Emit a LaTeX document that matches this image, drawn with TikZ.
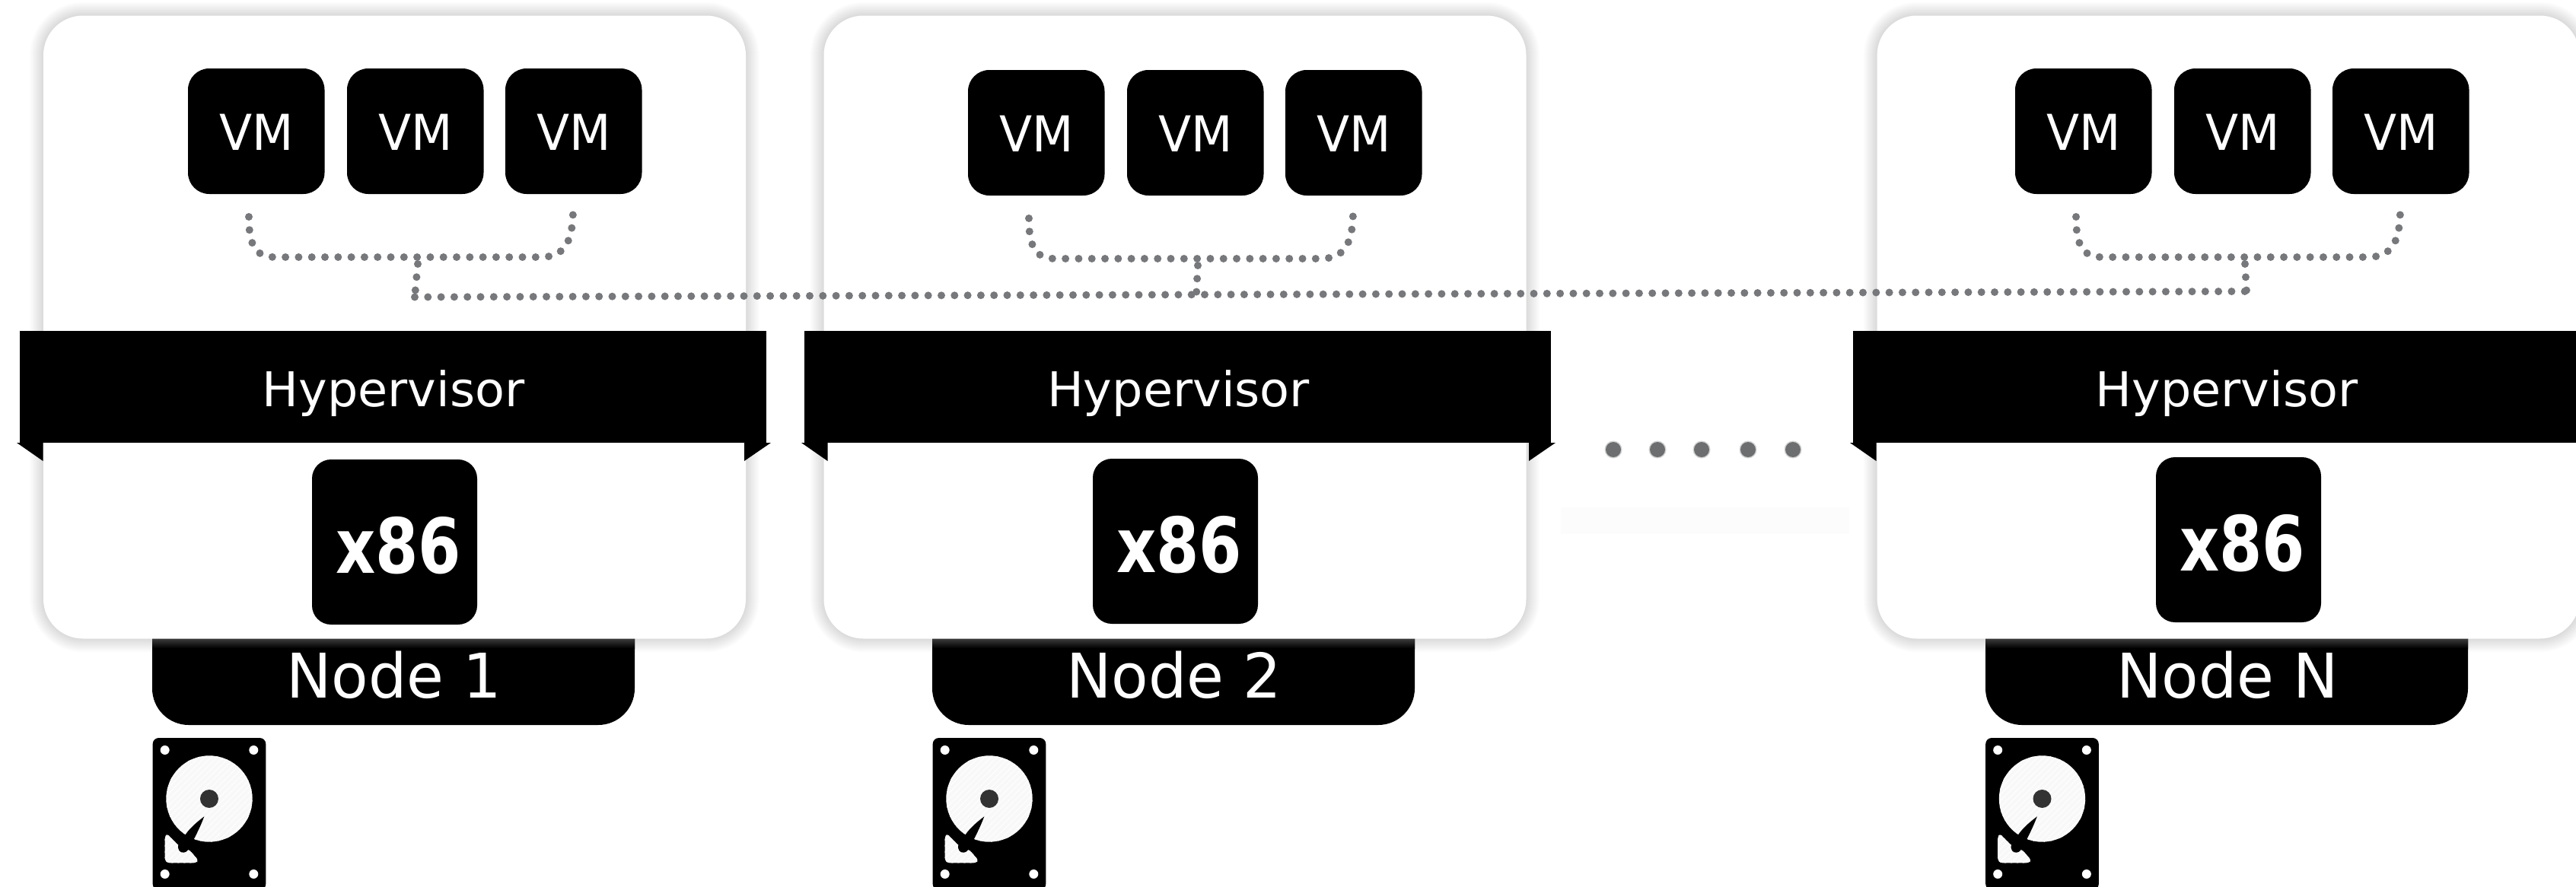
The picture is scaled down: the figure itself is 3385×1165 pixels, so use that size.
\documentclass[tikz,border=0pt]{standalone}
\usepackage{fontspec}
\usepackage{graphicx}
\setmainfont{DejaVu Sans}
\definecolor{dotgray}{HTML}{77787B}
\definecolor{ellgray}{HTML}{6D6E70}
\definecolor{discw}{HTML}{F8F8F8}
\definecolor{stripec}{HTML}{FDFDFD}
\definecolor{hubc}{HTML}{333333}
\definecolor{tabtop}{HTML}{3C3C3C}
\definecolor{faint}{HTML}{FCFCFC}
\newcommand\lab[3]{\smash{\makebox[0pt]{\hspace{#1}\raisebox{#2}{#3}}}}
\newcommand\fsz[1]{\fontsize{#1pt}{#1pt}\selectfont}
\tikzset{
  cardbox/.style={anchor=north west,fill=white,inner sep=0pt,outer sep=0pt,minimum width=923pt,minimum height=819pt,rounded corners=52pt},
  bandbox/.style={anchor=north west,fill=black,text=white,inner sep=0pt,outer sep=0pt,minimum width=981pt,minimum height=147pt,font=\fsz{63}},
  vmbox/.style={anchor=north west,fill=black,text=white,inner sep=0pt,outer sep=0pt,minimum width=179.5pt,minimum height=165pt,rounded corners=28pt,font=\fsz{65}},
  cpubox/.style={anchor=north west,fill=black,text=white,inner sep=0pt,outer sep=0pt,minimum width=217pt,minimum height=217pt,rounded corners=25pt,font=\fsz{100}\bfseries},
  tabbox/.style={anchor=north west,fill=black,text=white,inner sep=0pt,outer sep=0pt,minimum width=634pt,minimum height=173pt,rounded corners=48pt,font=\fsz{81}},
  dotline/.style={draw=dotgray,line width=10pt,line cap=round,dash pattern=on 0pt off 17.3pt},
  elldot/.style={fill=ellgray,draw=ellgray,draw opacity=0.3,line width=3pt,circle,inner sep=0pt,minimum size=20pt},
  ringshadow/.style={draw=black,draw opacity=0.0085,rounded corners=52pt},
}
\newcommand\harddisk[1]{%
  \begin{scope}[shift={(170+#1,940)},x=0.3333pt,y=-0.3333pt]
    \fill[black,rounded corners=8pt] (92,90) rectangle (538,690);
    \foreach \hx/\hy in {140/138,490/138,140/627,490/627}
      \fill[white] (\hx,\hy) circle[radius=18];
    \fill[discw] (315,330) circle[radius=170];
    \fill[discw,rounded corners=3pt] (140,480) -- (148,468) -- (195,515) -- (240,535) -- (272,573) -- (262,583) -- (150,583) -- (140,572) -- cycle;
    \begin{scope}
      \clip[rounded corners=3pt] (315,330) circle[radius=170] (140,480) -- (148,468) -- (195,515) -- (240,535) -- (272,573) -- (262,583) -- (150,583) -- (140,572) -- cycle;
      \foreach \s in {-300,-276,...,520}
        \draw[stripec,line width=1.5pt] (\s,620) -- (\s+560,60);
    \end{scope}
    \fill[black] (295,400) .. controls (262,425) and (240,445) .. (222,470) -- (193,510) .. controls (188,530) and (200,545) .. (215,542) .. controls (228,540) and (232,530) .. (238,520) .. controls (260,480) and (280,440) .. (295,400) -- cycle;
    \fill[hubc] (315,330) circle[radius=36];
  \end{scope}}
\begin{document}
\begin{tikzpicture}[x=1pt,y=-1pt]
\clip (0,0) rectangle (3385,1165);
\fill[white] (0,0) rectangle (3385,1165);
\fill[faint] (2051,667) rectangle (2430,702);
\foreach \id/\c/\b/\vx/\vy/\cpx/\cpy/\tx/\dk/\lbl/\hdx/\stemx/\stemy in {
   a/57/26/247/90/410/604/200/0/Node 1/1/545/390.5,
   b/1082.5/1057/1272/92/1436/603/1225/1025/Node 2/2/1572/387.3,
   n/2466.6/2435/2648/90/2833/601/2609/2408.5/Node N/1/2952/383}{
  \node[tabbox] (tab\id) at (\tx,780) {\lab{2pt}{-51pt}{\scalebox{.98}[1]{\lbl}}};
  \foreach \r in {1,...,18}
    \draw[ringshadow,line width=2*\r pt] (\c,20.5) rectangle (\c+923,839.5);
  \shade[top color=tabtop,bottom color=black] (\tx,839.5) rectangle (\tx+634,852);
  \node[cardbox] (card\id) at (\c,20.5) {};
  \node[bandbox] (hyp\id) at (\b,435) {\lab{\hdx pt}{-25.5pt}{\scalebox{1.01}[1]{Hypervisor}}};
  \fill[black] (\b-4,582) -- (\b+30.5,582) -- (\b+30.5,606) -- cycle;
  \fill[black] (\b+952,582) -- (\b+987,582) -- (\b+952,606) -- cycle;
  \foreach \k/\off in {1/0,2/209,3/417}
    \node[vmbox] (vm\id\k) at (\vx+\off,\vy) {\lab{1pt}{-25.2pt}{\scalebox{.97}[1]{VM}}};
  \node[cpubox] (cpu\id) at (\cpx,\cpy) {\lab{10pt}{-41pt}{\scalebox{.81}[1]{x86}}};
  \coordinate (ls\id) at (\vx+80,\vy+195);
  \coordinate (rl\id) at (\vx+115,\vy+248);
  \coordinate (rr\id) at (\vx+463,\vy+248);
  \coordinate (rs\id) at (\vx+506,\vy+185);
  \coordinate (st\id) at (\vx+302,\vy+257);
  \coordinate (se\id) at (\stemx,\stemy);
  \draw[dotline] (ls\id) .. controls (\vx+80,\vy+235) and (\vx+90,\vy+248) .. (rl\id) -- (rr\id) .. controls (\vx+490,\vy+248) and (\vx+506,\vy+235) .. (rs\id);
  \draw[dotline] (st\id) -- (se\id);
  \harddisk{\dk}
}
\draw[dotline] (sea) -- (sen);
\foreach \n/\ex in {1/2120,2/2178,3/2236,4/2297,5/2356}
  \node[elldot] (ell\n) at (\ex,591) {};
\end{tikzpicture}
\end{document}
